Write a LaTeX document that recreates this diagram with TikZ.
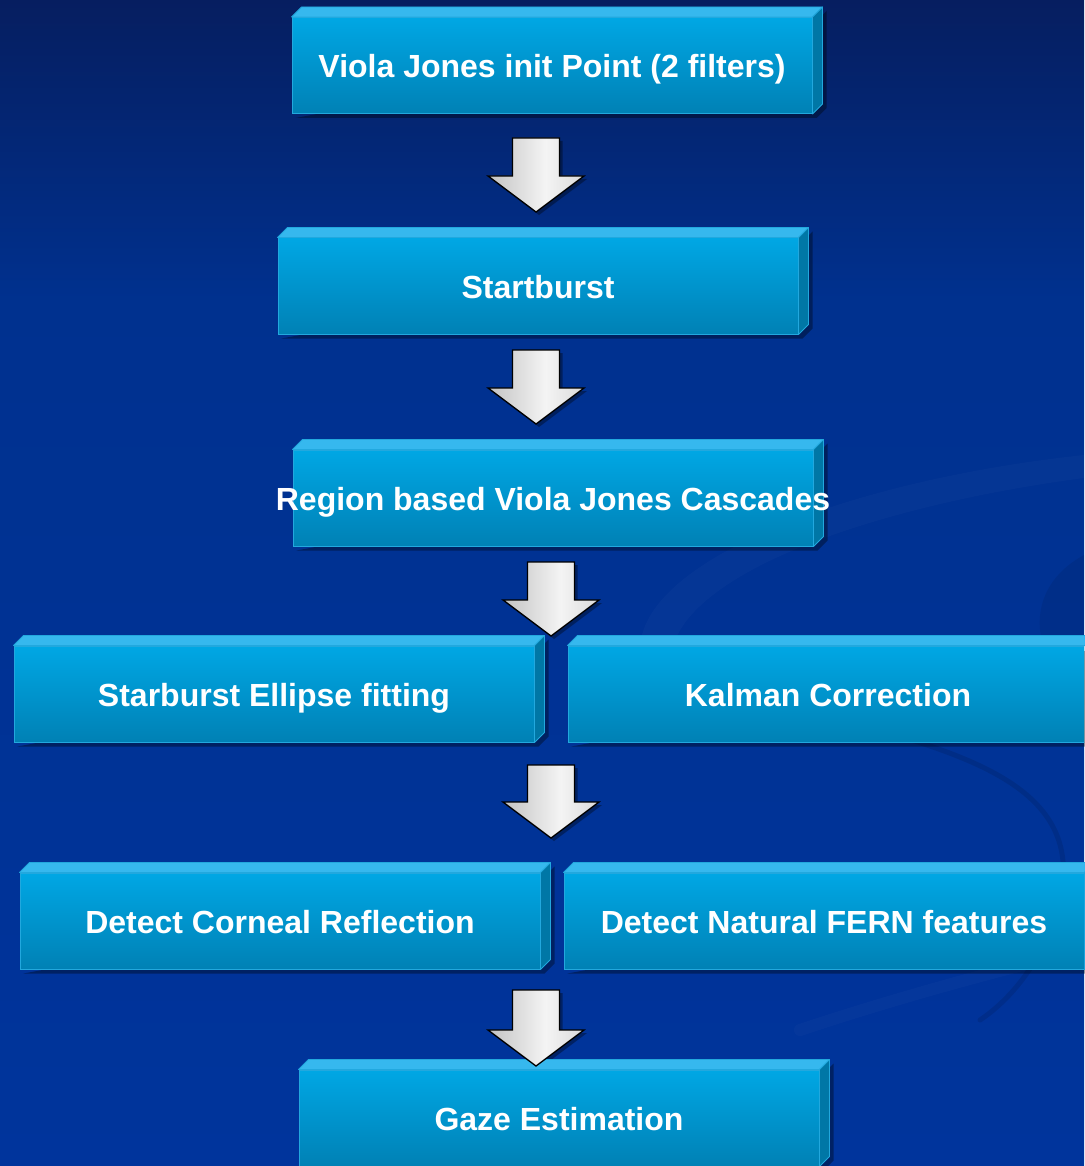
\documentclass[tikz,border=0pt]{standalone}
\usepackage{fontspec}
\setmainfont{Liberation Sans}
\usetikzlibrary{calc}
\definecolor{bgT}{HTML}{061E60}
\definecolor{bgM}{HTML}{00318F}
\definecolor{bgB}{HTML}{00349C}
\definecolor{faceTop}{HTML}{00A7E4}
\definecolor{faceMid}{HTML}{00A0DC}
\definecolor{faceBot}{HTML}{0081B5}
\definecolor{lidC}{HTML}{36B8EE}
\definecolor{sideC}{HTML}{0077A6}
\definecolor{edgeC}{HTML}{22A8DE}
\definecolor{arrL}{HTML}{C2C2C2}
\definecolor{arrM}{HTML}{F4F4F4}
\definecolor{arrR}{HTML}{DADADA}
\pgfdeclareverticalshading{bgshade}{100bp}{color(0bp)=(bgB); color(25bp)=(bgB); color(62bp)=(bgM); color(75bp)=(bgT); color(100bp)=(bgT)}
\pgfdeclarehorizontalshading{arrshade}{100bp}{color(0bp)=(arrL); color(25bp)=(arrL); color(55bp)=(arrM); color(75bp)=(arrR); color(100bp)=(arrR)}
\pgfdeclarelayer{bglayer}
\pgfdeclarelayer{shadowlayer}
\pgfdeclarelayer{decolayer}
\pgfsetlayers{bglayer,shadowlayer,decolayer,main}
\newcommand\boxtxt[1]{\makebox[0pt]{#1}}
\newcommand\blockarrow[2]{%
  \begin{pgfonlayer}{shadowlayer}
  \fill[black,opacity=.35] let \p1=(#1),\p2=(#2) in
    (\x1-20.5pt,\y1-3pt) -- (\x1+26.5pt,\y1-3pt) -- (\x1+26.5pt,\y2+33pt) -- (\x1+51pt,\y2+33pt)
    -- (\x2+3pt,\y2-3pt) -- (\x1-45pt,\y2+33pt) -- (\x1-20.5pt,\y2+33pt) -- cycle;
  \end{pgfonlayer}
  \draw[blockarr] let \p1=(#1),\p2=(#2) in
    (\x1-23.5pt,\y1) -- (\x1+23.5pt,\y1) -- (\x1+23.5pt,\y2+36pt) -- (\x1+48pt,\y2+36pt)
    -- (\x2,\y2) -- (\x1-48pt,\y2+36pt) -- (\x1-23.5pt,\y2+36pt) -- cycle;}
\tikzset{
  stepbox/.style={rectangle, minimum width=520pt, minimum height=96pt, inner sep=0pt,
    text height=25pt, text depth=0pt,
    top color=faceTop, middle color=faceMid, bottom color=faceBot,
    draw=edgeC, line width=1pt, text=white,
    font=\fontsize{32}{36}\selectfont\bfseries},
  blockarr/.style={draw=black, line width=1.3pt, line join=miter, shading=arrshade},
  swoosh/.style={line cap=round}
}
\begin{document}
\begin{tikzpicture}[x=1pt,y=-1pt]
\useasboundingbox (0,0) rectangle (1084,1166);
\begin{scope}
\clip (0,0) rectangle (1084,1166);
\begin{pgfonlayer}{bglayer}
  \shade[shading=bgshade] (0,0) rectangle (1084,1166);
  % background swooshes
  \fill[white,opacity=.02] (640,650) .. controls (640,560) and (850,480) .. (1084,455)
     -- (1084,478) .. controls (880,505) and (690,570) .. (672,650) -- cycle;
  \fill[black,opacity=.07] (1084,555) .. controls (1020,590) and (1030,660) .. (1084,705) -- cycle;
  \draw[swoosh,black,opacity=.10,line width=5pt] (905,738) .. controls (1010,770) and (1080,810) .. (1060,900)
     .. controls (1045,960) and (1010,1000) .. (980,1020);
  \draw[swoosh,white,opacity=.02,line width=12pt] (800,1030) .. controls (920,990) and (1040,960) .. (1084,950);
\end{pgfonlayer}

% boxes
\node[stepbox] (b1)  at (552,65.5) {\boxtxt{Viola Jones init Point (2 filters)}};
\node[stepbox] (b2)  at (538,286)  {\boxtxt{Startburst}};
\node[stepbox] (b3)  at (553,498)  {\boxtxt{Region based Viola Jones Cascades}};
\node[stepbox] (b4a) at (274,694)  {\boxtxt{Starburst Ellipse fitting}};
\node[stepbox] (b4b) at (828,694)  {\boxtxt{Kalman Correction}};
\node[stepbox] (b5a) at (280,921)  {\boxtxt{Detect Corneal Reflection}};
\node[stepbox] (b5b) at (824,921)  {\boxtxt{Detect Natural FERN features}};
\node[stepbox] (b6)  at (559,1118) {\boxtxt{Gaze Estimation}};

\foreach \n in {b1,b2,b3,b4a,b4b,b5a,b5b,b6} {
  \begin{pgfonlayer}{shadowlayer}
    \fill[black,opacity=.35] ([shift={(4,4)}]\n.south west) -- ([shift={(4,4)}]\n.south east)
      -- ([shift={(14,-6)}]\n.south east) -- ([shift={(14,-6)}]\n.north east) -- ([shift={(4,4)}]\n.north east) -- cycle;
  \end{pgfonlayer}
  \begin{pgfonlayer}{decolayer}
  \filldraw[fill=lidC, draw=edgeC, line width=.8pt, line join=round]
    (\n.north west) -- ([shift={(10,-10)}]\n.north west) -- ([shift={(10,-10)}]\n.north east) -- (\n.north east) -- cycle;
  \filldraw[fill=sideC, draw=edgeC, line width=.8pt, line join=round]
    (\n.north east) -- ([shift={(10,-10)}]\n.north east) -- ([shift={(10,-10)}]\n.south east) -- (\n.south east) -- cycle;
  \end{pgfonlayer}
}

% arrows
\coordinate (a1s) at (536,138);  \coordinate (a1t) at (536,212);
\coordinate (a2s) at (536,350);  \coordinate (a2t) at (536,424);
\coordinate (a3s) at (551,562);  \coordinate (a3t) at (551,636);
\coordinate (a4s) at (551,765);  \coordinate (a4t) at (551,838);
\coordinate (a5s) at (536,990);  \coordinate (a5t) at (536,1066);
\blockarrow{a1s}{a1t}
\blockarrow{a2s}{a2t}
\blockarrow{a3s}{a3t}
\blockarrow{a4s}{a4t}
\blockarrow{a5s}{a5t}
\end{scope}
\end{tikzpicture}
\end{document}
